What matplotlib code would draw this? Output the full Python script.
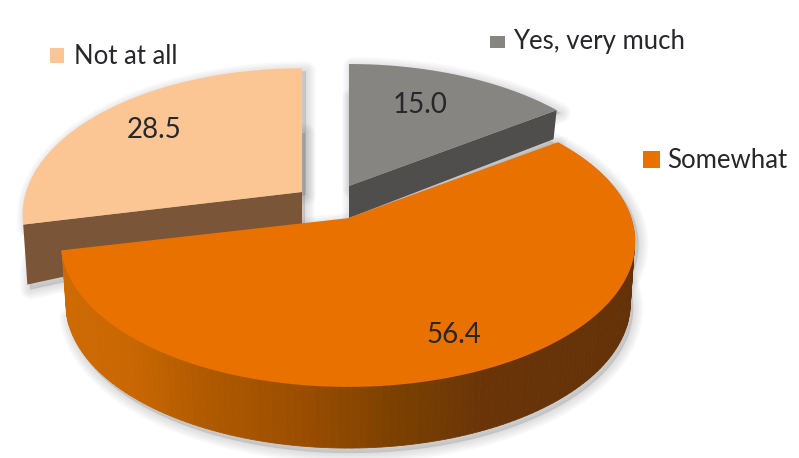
import numpy as np
import matplotlib
matplotlib.use('Agg')
import matplotlib.pyplot as plt
from matplotlib.patches import Rectangle
from matplotlib.colors import LinearSegmentedColormap

# data, clockwise from 12 o'clock
labels = ['Yes, very much', 'Somewhat', 'Not at all']
values = [15.0, 56.4, 28.5]
value_text = ['15.0', '56.4', '28.5']

# colours
top_colors = ['#878582', '#E87100', '#FCC694']
side_colors = ['#4F4E4C', '#E87100', '#7A5538']
text_color = '#26262B'

# pixel geometry of the exploded slices
apex = [(349, 186), (348, 219), (302, 192)]
radius_x = [280, 283, 276]
radius_y = [141, 141, 143]
persp = 0.156
depth_apex = [32, 62, 33]
depth_rim = [29, 62, 60]
label_pos = [(420, 105), (454, 335), (154, 130)]
legend_box = [(490, 36, 15, 12), (643, 151, 17, 17), (50, 48, 14, 15)]
legend_text = [(513, 41), (667, 160), (74, 57)]

# orange rim goes from bright on the left to dark brown on the right
rim_cmap = LinearSegmentedColormap.from_list('rim', [
    (0.00, '#CE6A02'), (0.12, '#C96702'), (0.25, '#B05A00'),
    (0.42, '#9B4E00'), (0.58, '#7D4100'), (0.75, '#693408'), (1.00, '#643208')])


def project(i, theta):
    # circle seen from above with a bit of perspective
    x = np.sin(theta)
    y = np.cos(theta)
    w = 1 + persp * y
    return apex[i][0] + radius_x[i] * x / w, apex[i][1] - radius_y[i] * y / w


fig = plt.figure(figsize=(7.99, 4.58), dpi=100)
ax = fig.add_axes([0, 0, 1, 1])

fractions = np.array(values) / sum(values)
edges = np.concatenate([[0], np.cumsum(fractions)]) * 2 * np.pi

rims = []
for i in range(3):
    t = np.linspace(edges[i], edges[i + 1], 160)
    rx, ry = project(i, t)
    rims.append((t, rx, ry))

# soft shadows first
for i in [2, 0, 1]:
    t, rx, ry = rims[i]
    ax0, ay0 = apex[i]
    for sx, sy in [(np.r_[ax0, rx] + 4, np.r_[ay0, ry] + 3),
                   (np.r_[ax0, ax0 + (rx - ax0) * 0.985] + 3,
                    np.r_[ay0 + depth_apex[i], ry + depth_rim[i]] + 5)]:
        for lw in [14, 11, 8, 5, 2]:
            ax.fill(sx, sy, fc='#555555', ec='#555555', lw=lw, alpha=0.04, joinstyle='round', zorder=1)

# not at all and yes, very much: flat cut faces
for i, rim_end in [(2, 0), (0, -1)]:
    t, rx, ry = rims[i]
    ax0, ay0 = apex[i]
    ex = rx[rim_end]
    ey = ry[rim_end]
    dx = (ex - ax0) * 0.985
    ax.fill([ax0, ex, ax0 + dx, ax0],
            [ay0, ey, ey + depth_rim[i], ay0 + depth_apex[i]],
            fc=side_colors[i], ec='none', zorder=2)
    ax.fill(np.r_[ax0, rx], np.r_[ay0, ry], fc=top_colors[i], ec='none', zorder=3)

# somewhat: shaded outer wall then the top
t, rx, ry = rims[1]
ax0, ay0 = apex[1]
for k in range(len(t) - 1):
    u = (rx[k] - rx.min()) / (rx.max() - rx.min())
    low_x = ax0 + (rx[k:k + 2] - ax0) * 0.985
    ax.fill([rx[k], rx[k + 1], low_x[1], low_x[0]],
            [ry[k], ry[k + 1], ry[k + 1] + depth_rim[1], ry[k] + depth_rim[1]],
            fc=rim_cmap(u), ec=rim_cmap(u), lw=0.6, zorder=4)
ax.fill(np.r_[ax0, rx], np.r_[ay0, ry], fc=top_colors[1], ec=top_colors[1], lw=1.2, zorder=5)

plt.rcParams['font.family'] = ['Lato', 'DejaVu Sans']

for i in range(3):
    ax.text(label_pos[i][0], label_pos[i][1], value_text[i], fontsize=20, color=text_color,
            ha='center', va='center', zorder=6)
    bx, by, bw, bh = legend_box[i]
    ax.add_patch(Rectangle((bx, by), bw, bh, fc=top_colors[i], ec='none', zorder=6))
    ax.text(legend_text[i][0], legend_text[i][1], labels[i], fontsize=18.5, color=text_color,
            ha='left', va='center', zorder=6)

ax.set_xlim(0, 799)
ax.set_ylim(458, 0)
ax.axis('off')
fig.savefig('out.png', dpi=100)
